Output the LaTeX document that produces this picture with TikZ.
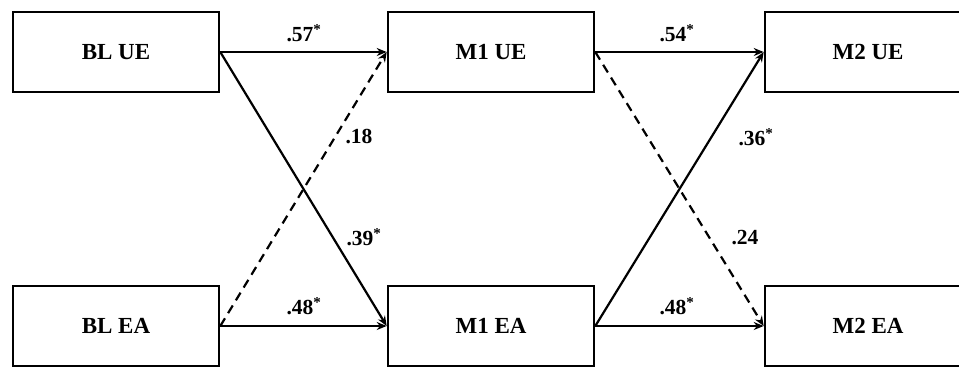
\documentclass[tikz,border=0pt]{standalone}
\usepackage{fontspec}
\setmainfont{Liberation Serif}
\usetikzlibrary{arrows.meta}
\begin{document}
\begin{tikzpicture}[x=1pt,y=-1pt,
  var/.style={draw, line width=2.6pt, minimum width=206pt, minimum height=80pt,
    inner sep=0pt, font=\fontsize{23}{26}\selectfont\bfseries},
  path/.style={line width=2.2pt, -{Stealth[length=10pt,width=8pt]}},
  nsig/.style={path, dash pattern=on 9pt off 6pt},
  coef/.style={font=\fontsize{21.5}{24}\selectfont\bfseries, inner sep=0pt}]
\clip (0,0) rectangle (959,368);
\fill[white] (0,0) rectangle (959,368);
% measurement occasions: baseline, month 1, month 2
\node[var] (blue) at (116,52) {BL UE};
\node[var] (blea) at (116,326) {BL EA};
\node[var] (mue) at (491,52) {M1 UE};
\node[var] (mea) at (491,326) {M1 EA};
\node[var] (nue) at (868,52) {M2 UE};
\node[var] (nea) at (868,326) {M2 EA};
% cross-lagged paths
\draw[path] (blue.east) -- (mue.west);
\draw[path] (blea.east) -- (mea.west);
\draw[path] (blue.east) -- (mea.west);
\draw[nsig] (blea.east) -- (mue.west);
\draw[path] (mue.east) -- (nue.west);
\draw[path] (mea.east) -- (nea.west);
\draw[path] (mea.east) -- (nue.west);
\draw[nsig] (mue.east) -- (nea.west);
% standardized coefficients
\node[coef] (c1) at (304,33) {.57\textsuperscript{*}};
\node[coef] (c2) at (304,306) {.48\textsuperscript{*}};
\node[coef] (c3) at (359,136) {.18};
\node[coef] (c4) at (364,237) {.39\textsuperscript{*}};
\node[coef] (c5) at (677,33) {.54\textsuperscript{*}};
\node[coef] (c6) at (677,306) {.48\textsuperscript{*}};
\node[coef] (c7) at (756,137) {.36\textsuperscript{*}};
\node[coef] (c8) at (745,238) {.24};
\end{tikzpicture}
\end{document}
